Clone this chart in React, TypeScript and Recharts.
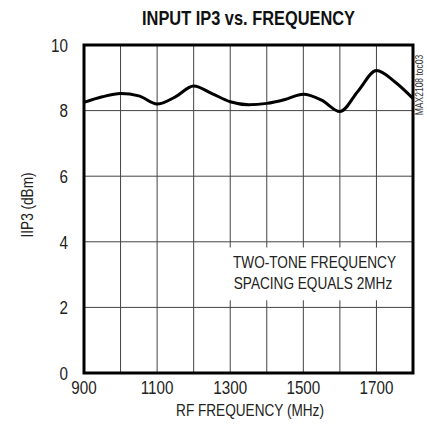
import { LineChart, Line, XAxis, YAxis, CartesianGrid, ReferenceArea } from 'recharts';

const FREQ = [900, 950, 1000, 1050, 1100, 1150, 1200, 1250, 1300, 1350, 1400, 1450, 1500, 1550, 1600, 1650, 1700, 1750, 1800];
const IIP3 = [8.25, 8.42, 8.52, 8.45, 8.2, 8.42, 8.75, 8.52, 8.27, 8.18, 8.22, 8.34, 8.5, 8.32, 7.97, 8.6, 9.22, 8.88, 8.37];
const X_TICKS = [900, 1000, 1100, 1200, 1300, 1400, 1500, 1600, 1700, 1800];
const X_LABELS = [900, 1100, 1300, 1500, 1700];
const Y_TICKS = [0, 2, 4, 6, 8, 10];

const data = FREQ.map((f, i) => ({ freq: f, iip3: IIP3[i] }));

const FONT = '"Liberation Sans", Arial, sans-serif';
const SQUEEZE = 0.8;

// narrow-looking tick text (no condensed font installed)
function XTick({ x, y, payload }: any) {
  if (!X_LABELS.includes(payload.value)) return null;
  return (
    <g transform={`translate(${x},${y})`}>
      <text transform={`scale(${SQUEEZE},1)`} textAnchor="middle" dy="0.71em" fontSize={19} fill="#222" fontFamily={FONT}>
        {payload.value}
      </text>
    </g>
  );
}

function YTick({ x, y, payload }: any) {
  return (
    <g transform={`translate(${x},${y})`}>
      <text transform={`scale(${SQUEEZE},1)`} textAnchor="end" dy="0.355em" fontSize={19} fill="#222" fontFamily={FONT}>
        {payload.value}
      </text>
    </g>
  );
}

const squeeze = (k = SQUEEZE) => ({ transform: `scaleX(${k})`, transformOrigin: 'center' });

export default function App() {
  return (
    <div style={{ position: 'absolute', left: 0, top: 0, width: 427, height: 432, background: '#fff', fontFamily: FONT, color: '#222' }}>
      <div style={{ position: 'absolute', left: 0, width: 497, top: 6, textAlign: 'center', fontWeight: 'bold', fontSize: 21, color: '#111', ...squeeze(0.78) }}>
        INPUT IP3 vs. FREQUENCY
      </div>
      <LineChart width={427} height={432} data={data} margin={{ top: 45, right: 14, bottom: 0, left: 0 }}>
        <CartesianGrid stroke="#444" strokeWidth={1} />
        <XAxis
          dataKey="freq"
          type="number"
          domain={[900, 1800]}
          ticks={X_TICKS}
          axisLine={false}
          tickLine={false}
          height={59}
          tick={<XTick />}
          interval={0}
        />
        <YAxis
          type="number"
          domain={[0, 10]}
          ticks={Y_TICKS}
          axisLine={false}
          tickLine={false}
          width={84}
          tickMargin={10}
          tick={<YTick />}
          interval={0}
        />
        <ReferenceArea x1={1262} x2={1800} y1={2.22} y2={3.83} fill="#fff" fillOpacity={1} stroke="none" />
        <Line type="monotone" dataKey="iip3" stroke="#000" strokeWidth={3} dot={false} isAnimationActive={false} />
        <ReferenceArea x1={900} x2={1800} y1={0} y2={10} fill="none" stroke="#000" strokeWidth={3} />
      </LineChart>
      <div style={{ position: 'absolute', left: 213, top: 252, width: 200, textAlign: 'center', fontSize: 17, lineHeight: '21px', whiteSpace: 'nowrap', ...squeeze() }}>
        TWO-TONE FREQUENCY<br />SPACING EQUALS 2MHz
      </div>
      <div style={{ position: 'absolute', left: 0, width: 500, top: 401, textAlign: 'center', fontSize: 17, ...squeeze() }}>
        RF FREQUENCY (MHz)
      </div>
      <div style={{ position: 'absolute', left: 28, top: 205, transform: `translate(-50%, -50%) rotate(-90deg) scaleX(${SQUEEZE})`, whiteSpace: 'nowrap', fontSize: 17 }}>
        IIP3 (dBm)
      </div>
      <div style={{ position: 'absolute', left: 419, top: 85, transform: `translate(-50%, -50%) rotate(-90deg) scaleX(0.85)`, whiteSpace: 'nowrap', fontSize: 10, color: '#333' }}>
        MAX2108 toc03
      </div>
    </div>
  );
}
